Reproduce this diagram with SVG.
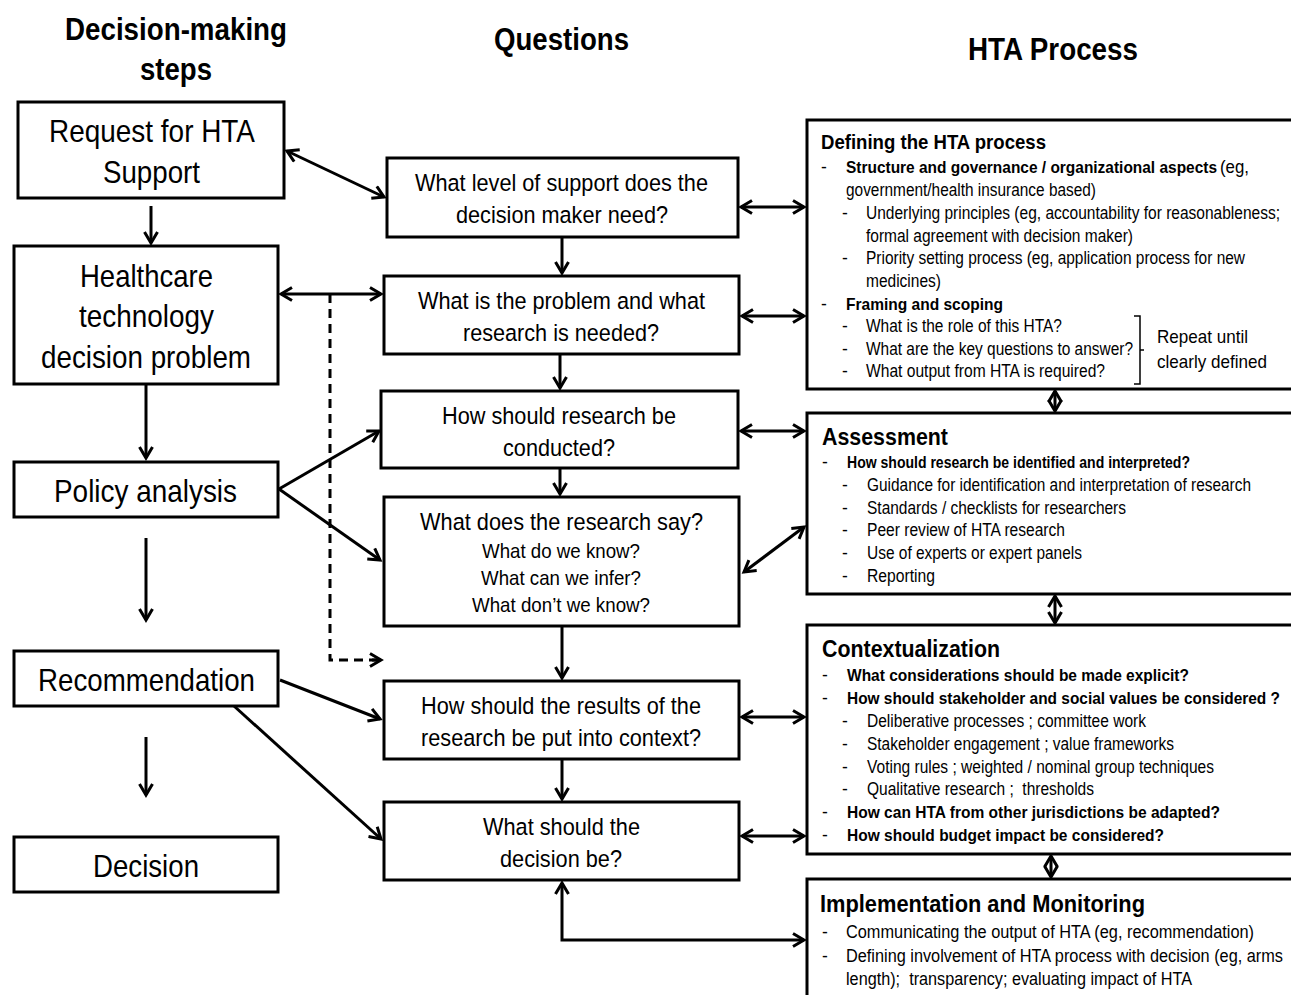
<svg xmlns="http://www.w3.org/2000/svg" width="1291" height="995" viewBox="0 0 1291 995">
<style>
text{font-family:"Liberation Sans",Arial,sans-serif;fill:#000}
.hd{font-size:31px;font-weight:bold}
.lb{font-size:32px}
.q{font-size:24.5px}
.qs{font-size:21px}
.t1{font-size:21px;font-weight:bold}
.t2{font-size:24px;font-weight:bold}
.b{font-size:17px;font-weight:bold}
.r{font-size:17.5px}
.rp{font-size:19px}
.box{fill:#fff;stroke:#000;stroke-width:3}
.ln{fill:none;stroke:#000;stroke-width:3}
.dash{fill:none;stroke:#000;stroke-width:3;stroke-dasharray:9 6}
</style>
<defs>
<marker id="ah" markerUnits="userSpaceOnUse" markerWidth="16" markerHeight="16" viewBox="-2 -8 16 16" refX="11" refY="0" orient="auto-start-reverse">
<path d="M0,-6.5 L11,0 L0,6.5" fill="none" stroke="#000" stroke-width="3"/>
</marker>
</defs>
<rect width="1291" height="995" fill="#fff"/>

<g id="headers">
<text class="hd" x="65" y="40" textLength="222" lengthAdjust="spacingAndGlyphs">Decision-making</text>
<text class="hd" x="140" y="80" textLength="72" lengthAdjust="spacingAndGlyphs">steps</text>
<text class="hd" x="494" y="50" textLength="135" lengthAdjust="spacingAndGlyphs">Questions</text>
<text class="hd" x="968" y="60" textLength="170" lengthAdjust="spacingAndGlyphs">HTA Process</text>
</g>

<g id="connectors">
<line class="ln" x1="151" y1="206" x2="151" y2="243" marker-end="url(#ah)"/>
<line class="ln" x1="146" y1="384" x2="146" y2="458" marker-end="url(#ah)"/>
<line class="ln" x1="146" y1="538" x2="146" y2="620" marker-end="url(#ah)"/>
<line class="ln" x1="146" y1="737" x2="146" y2="795" marker-end="url(#ah)"/>

<line class="ln" x1="562" y1="237" x2="562" y2="273" marker-end="url(#ah)"/>
<line class="ln" x1="560" y1="354" x2="560" y2="388" marker-end="url(#ah)"/>
<line class="ln" x1="560" y1="468" x2="560" y2="494" marker-end="url(#ah)"/>
<line class="ln" x1="562" y1="626" x2="562" y2="678" marker-end="url(#ah)"/>
<line class="ln" x1="562" y1="759" x2="562" y2="799" marker-end="url(#ah)"/>

<line class="ln" x1="287" y1="151" x2="384" y2="197" marker-start="url(#ah)" marker-end="url(#ah)"/>
<line class="ln" x1="281" y1="294" x2="381" y2="294" marker-start="url(#ah)" marker-end="url(#ah)"/>
<polyline class="dash" points="330,294 330,660 380,660"/>
<line class="ln" x1="372" y1="660" x2="381" y2="660" marker-end="url(#ah)"/>
<line class="ln" x1="279" y1="489" x2="379" y2="431" marker-end="url(#ah)"/>
<line class="ln" x1="279" y1="489" x2="380" y2="560" marker-end="url(#ah)"/>
<line class="ln" x1="280" y1="680" x2="380" y2="719" marker-end="url(#ah)"/>
<line class="ln" x1="234" y1="706" x2="381" y2="839" marker-end="url(#ah)"/>

<line class="ln" x1="741" y1="207" x2="804" y2="207" marker-start="url(#ah)" marker-end="url(#ah)"/>
<line class="ln" x1="742" y1="316" x2="804" y2="316" marker-start="url(#ah)" marker-end="url(#ah)"/>
<line class="ln" x1="741" y1="431" x2="804" y2="431" marker-start="url(#ah)" marker-end="url(#ah)"/>
<line class="ln" x1="744" y1="572" x2="804" y2="527" marker-start="url(#ah)" marker-end="url(#ah)"/>
<line class="ln" x1="742" y1="717" x2="804" y2="717" marker-start="url(#ah)" marker-end="url(#ah)"/>
<line class="ln" x1="742" y1="836" x2="804" y2="836" marker-start="url(#ah)" marker-end="url(#ah)"/>
<polyline class="ln" points="562,883 562,940 804,940" marker-start="url(#ah)" marker-end="url(#ah)"/>

<line class="ln" x1="1055" y1="391" x2="1055" y2="411" marker-start="url(#ah)" marker-end="url(#ah)"/>
<line class="ln" x1="1055" y1="596" x2="1055" y2="623" marker-start="url(#ah)" marker-end="url(#ah)"/>
<line class="ln" x1="1051" y1="856" x2="1051" y2="877" marker-start="url(#ah)" marker-end="url(#ah)"/>
</g>

<g id="n-request">
<rect class="box" x="18" y="102" width="266" height="96"/>
<text class="lb" x="49" y="142" textLength="206" lengthAdjust="spacingAndGlyphs">Request for HTA</text>
<text class="lb" x="103" y="183" textLength="97" lengthAdjust="spacingAndGlyphs">Support</text>
</g>
<g id="n-healthcare">
<rect class="box" x="14" y="246" width="264" height="138"/>
<text class="lb" x="80" y="287" textLength="133" lengthAdjust="spacingAndGlyphs">Healthcare</text>
<text class="lb" x="79" y="327" textLength="135" lengthAdjust="spacingAndGlyphs">technology</text>
<text class="lb" x="41" y="368" textLength="210" lengthAdjust="spacingAndGlyphs">decision problem</text>
</g>
<g id="n-policy">
<rect class="box" x="14" y="462" width="264" height="55"/>
<text class="lb" x="54" y="502" textLength="183" lengthAdjust="spacingAndGlyphs">Policy analysis</text>
</g>
<g id="n-recommendation">
<rect class="box" x="14" y="651" width="264" height="55"/>
<text class="lb" x="38" y="691" textLength="217" lengthAdjust="spacingAndGlyphs">Recommendation</text>
</g>
<g id="n-decision">
<rect class="box" x="14" y="837" width="264" height="55"/>
<text class="lb" x="93" y="877" textLength="106" lengthAdjust="spacingAndGlyphs">Decision</text>
</g>

<g id="q-support">
<rect class="box" x="387" y="158" width="351" height="79"/>
<text class="q" x="415" y="191" textLength="293" lengthAdjust="spacingAndGlyphs">What level of support does the</text>
<text class="q" x="456" y="223" textLength="212" lengthAdjust="spacingAndGlyphs">decision maker need?</text>
</g>
<g id="q-problem">
<rect class="box" x="384" y="276" width="355" height="78"/>
<text class="q" x="418" y="309" textLength="287" lengthAdjust="spacingAndGlyphs">What is the problem and what</text>
<text class="q" x="463" y="341" textLength="196" lengthAdjust="spacingAndGlyphs">research is needed?</text>
</g>
<g id="q-conduct">
<rect class="box" x="381" y="391" width="357" height="77"/>
<text class="q" x="442" y="424" textLength="234" lengthAdjust="spacingAndGlyphs">How should research be</text>
<text class="q" x="503" y="456" textLength="112" lengthAdjust="spacingAndGlyphs">conducted?</text>
</g>
<g id="q-say">
<rect class="box" x="384" y="497" width="355" height="129"/>
<text class="q" x="420" y="530" textLength="283" lengthAdjust="spacingAndGlyphs">What does the research say?</text>
<text class="qs" x="482" y="558" textLength="158" lengthAdjust="spacingAndGlyphs">What do we know?</text>
<text class="qs" x="481" y="585" textLength="160" lengthAdjust="spacingAndGlyphs">What can we infer?</text>
<text class="qs" x="472" y="612" textLength="178" lengthAdjust="spacingAndGlyphs">What don’t we know?</text>
</g>
<g id="q-context">
<rect class="box" x="384" y="681" width="355" height="78"/>
<text class="q" x="421" y="714" textLength="280" lengthAdjust="spacingAndGlyphs">How should the results of the</text>
<text class="q" x="421" y="746" textLength="280" lengthAdjust="spacingAndGlyphs">research be put into context?</text>
</g>
<g id="q-decision">
<rect class="box" x="384" y="802" width="355" height="78"/>
<text class="q" x="483" y="835" textLength="157" lengthAdjust="spacingAndGlyphs">What should the</text>
<text class="q" x="500" y="867" textLength="122" lengthAdjust="spacingAndGlyphs">decision be?</text>
</g>

<g id="p-defining">
<rect class="box" x="807" y="120" width="500" height="269"/>
<text class="t1" x="821" y="149" textLength="225" lengthAdjust="spacingAndGlyphs">Defining the HTA process</text>
<text class="r" x="821" y="173">-</text>
<text x="846" y="173"><tspan class="b" textLength="371" lengthAdjust="spacingAndGlyphs">Structure and governance / organizational aspects</tspan><tspan class="r" x="1220" textLength="29" lengthAdjust="spacingAndGlyphs">(eg,</tspan></text>
<text class="r" x="846" y="196" textLength="250" lengthAdjust="spacingAndGlyphs">government/health insurance based)</text>
<text class="r" x="842" y="219">-</text>
<text class="r" x="866" y="219" textLength="414" lengthAdjust="spacingAndGlyphs">Underlying principles (eg, accountability for reasonableness;</text>
<text class="r" x="866" y="242" textLength="267" lengthAdjust="spacingAndGlyphs">formal agreement with decision maker)</text>
<text class="r" x="842" y="264">-</text>
<text class="r" x="866" y="264" textLength="379" lengthAdjust="spacingAndGlyphs">Priority setting process (eg, application process for new</text>
<text class="r" x="866" y="287" textLength="75" lengthAdjust="spacingAndGlyphs">medicines)</text>
<text class="r" x="821" y="310">-</text>
<text class="b" x="846" y="310" textLength="157" lengthAdjust="spacingAndGlyphs">Framing and scoping</text>
<text class="r" x="842" y="332">-</text>
<text class="r" x="866" y="332" textLength="196" lengthAdjust="spacingAndGlyphs">What is the role of this HTA?</text>
<text class="r" x="842" y="355">-</text>
<text class="r" x="866" y="355" textLength="267" lengthAdjust="spacingAndGlyphs">What are the key questions to answer?</text>
<text class="r" x="842" y="377">-</text>
<text class="r" x="866" y="377" textLength="239" lengthAdjust="spacingAndGlyphs">What output from HTA is required?</text>
<polyline points="1134,316 1140,316 1140,384 1134,384" fill="none" stroke="#000" stroke-width="1.5"/>
<line x1="1140" y1="350" x2="1144" y2="350" stroke="#000" stroke-width="1.5"/>
<text class="rp" x="1157" y="343" textLength="91" lengthAdjust="spacingAndGlyphs">Repeat until</text>
<text class="rp" x="1157" y="368" textLength="110" lengthAdjust="spacingAndGlyphs">clearly defined</text>
</g>

<g id="p-assessment">
<rect class="box" x="807" y="413" width="500" height="181"/>
<text class="t2" x="822" y="445" textLength="126" lengthAdjust="spacingAndGlyphs">Assessment</text>
<text class="r" x="822" y="468">-</text>
<text class="b" x="847" y="468" textLength="343" lengthAdjust="spacingAndGlyphs">How should research be identified and interpreted?</text>
<text class="r" x="842" y="491">-</text>
<text class="r" x="867" y="491" textLength="384" lengthAdjust="spacingAndGlyphs">Guidance for identification and interpretation of research</text>
<text class="r" x="842" y="514">-</text>
<text class="r" x="867" y="514" textLength="259" lengthAdjust="spacingAndGlyphs">Standards / checklists for researchers</text>
<text class="r" x="842" y="536">-</text>
<text class="r" x="867" y="536" textLength="198" lengthAdjust="spacingAndGlyphs">Peer review of HTA research</text>
<text class="r" x="842" y="559">-</text>
<text class="r" x="867" y="559" textLength="215" lengthAdjust="spacingAndGlyphs">Use of experts or expert panels</text>
<text class="r" x="842" y="582">-</text>
<text class="r" x="867" y="582" textLength="68" lengthAdjust="spacingAndGlyphs">Reporting</text>
</g>

<g id="p-context">
<rect class="box" x="807" y="625" width="500" height="229"/>
<text class="t2" x="822" y="657" textLength="178" lengthAdjust="spacingAndGlyphs">Contextualization</text>
<text class="r" x="822" y="681">-</text>
<text class="b" x="847" y="681" textLength="342" lengthAdjust="spacingAndGlyphs">What considerations should be made explicit?</text>
<text class="r" x="822" y="704">-</text>
<text class="b" x="847" y="704" textLength="433" lengthAdjust="spacingAndGlyphs">How should stakeholder and social values be considered ?</text>
<text class="r" x="842" y="727">-</text>
<text class="r" x="867" y="727" textLength="279" lengthAdjust="spacingAndGlyphs">Deliberative processes ; committee work</text>
<text class="r" x="842" y="750">-</text>
<text class="r" x="867" y="750" textLength="307" lengthAdjust="spacingAndGlyphs">Stakeholder engagement ; value frameworks</text>
<text class="r" x="842" y="773">-</text>
<text class="r" x="867" y="773" textLength="347" lengthAdjust="spacingAndGlyphs">Voting rules ; weighted / nominal group techniques</text>
<text class="r" x="842" y="795">-</text>
<text class="r" x="867" y="795" textLength="227" lengthAdjust="spacingAndGlyphs" xml:space="preserve">Qualitative research ;  thresholds</text>
<text class="r" x="822" y="818">-</text>
<text class="b" x="847" y="818" textLength="373" lengthAdjust="spacingAndGlyphs">How can HTA from other jurisdictions be adapted?</text>
<text class="r" x="822" y="841">-</text>
<text class="b" x="847" y="841" textLength="317" lengthAdjust="spacingAndGlyphs">How should budget impact be considered?</text>
</g>

<g id="p-implementation">
<rect class="box" x="807" y="879" width="500" height="200"/>
<text class="t2" x="820" y="912" textLength="325" lengthAdjust="spacingAndGlyphs">Implementation and Monitoring</text>
<text class="r" x="822" y="938">-</text>
<text class="r" x="846" y="938" textLength="408" lengthAdjust="spacingAndGlyphs">Communicating the output of HTA (eg, recommendation)</text>
<text class="r" x="822" y="962">-</text>
<text class="r" x="846" y="962" textLength="437" lengthAdjust="spacingAndGlyphs">Defining involvement of HTA process with decision (eg, arms</text>
<text class="r" x="846" y="985" textLength="346" lengthAdjust="spacingAndGlyphs" xml:space="preserve">length);  transparency; evaluating impact of HTA</text>
</g>
</svg>
